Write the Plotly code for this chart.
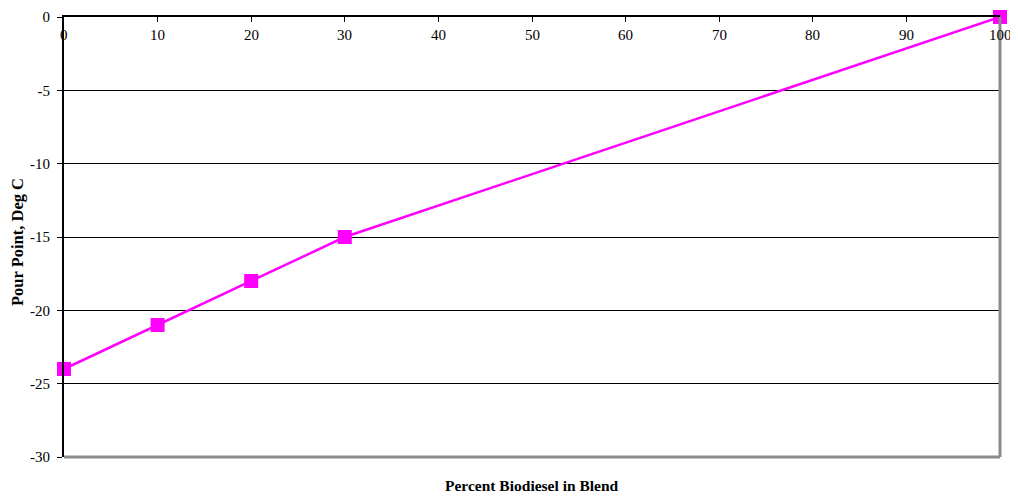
import plotly.graph_objects as go

percent_biodiesel = [0, 10, 20, 30, 100]
pour_point = [-24, -21, -18, -15, 0]
x_ticks = [0, 10, 20, 30, 40, 50, 60, 70, 80, 90, 100]
y_ticks = [0, -5, -10, -15, -20, -25, -30]
y_tick_text = ["0", "-5", "-10", "-15", "-20", "-25", "-30"]

font_family = "Liberation Serif, Times New Roman, serif"
fs = 15

fig = go.Figure()
fig.add_trace(go.Scatter(
    x=percent_biodiesel, y=pour_point, mode="lines+markers",
    line=dict(color="#FF00FF", width=2.5),
    marker=dict(symbol="square", size=14, color="#FF00FF", line=dict(width=0)),
    cliponaxis=False, showlegend=False,
))

annotations = [
    dict(text=str(v), x=v, xref="x", y=1, yref="paper", yshift=-8,
         xanchor="center", yanchor="top", showarrow=False,
         font=dict(family=font_family, size=fs))
    for v in x_ticks
]
annotations += [
    dict(text="<b>Percent Biodiesel in Blend</b>", xref="paper", yref="paper",
         x=0.5, y=0, yshift=-28, xanchor="center", yanchor="middle",
         showarrow=False, font=dict(family=font_family, size=15.5)),
    dict(text="<b>Pour Point, Deg C</b>", xref="paper", yref="paper",
         x=0, y=0.5, xshift=-47, yshift=-5, xanchor="center", yanchor="middle",
         textangle=-90, showarrow=False,
         font=dict(family=font_family, size=16.5)),
]

fig.update_layout(
    width=1010, height=490,
    margin=dict(l=56, r=18, t=9, b=41),
    paper_bgcolor="white", plot_bgcolor="white",
    font=dict(family=font_family, size=fs, color="black"),
    xaxis=dict(
        range=[0, 100], tickvals=x_ticks, side="top",
        ticks="inside", ticklen=5, tickcolor="black", tickwidth=1,
        showticklabels=False, automargin=False,
        showline=True, linecolor="black", linewidth=2,
        showgrid=False, zeroline=False,
    ),
    yaxis=dict(
        range=[-30, 0], tickvals=y_ticks, ticktext=y_tick_text,
        ticks="outside", ticklen=5, tickcolor="black", tickwidth=1,
        ticklabelstandoff=4,
        automargin=False,
        showline=True, linecolor="black", linewidth=2,
        showgrid=True, gridcolor="black", gridwidth=1,
        zeroline=False,
        tickfont=dict(family=font_family, size=fs),
    ),
    shapes=[
        dict(type="line", xref="paper", yref="paper", x0=1, x1=1, y0=0, y1=1,
             line=dict(color="#8c8c8c", width=3)),
        dict(type="line", xref="paper", yref="paper", x0=0, x1=1, y0=0, y1=0,
             line=dict(color="#8c8c8c", width=3)),
    ],
    annotations=annotations,
)

fig.write_html("out.html")
